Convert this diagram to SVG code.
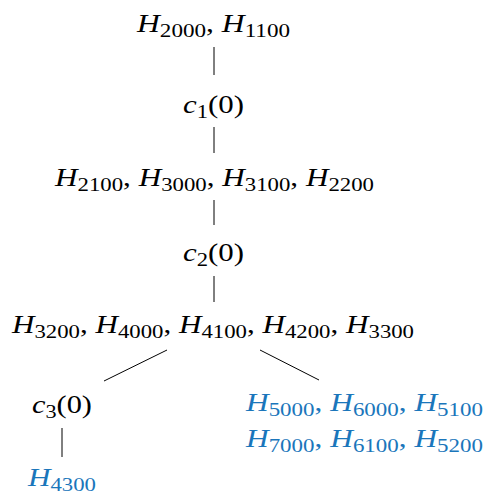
<svg xmlns="http://www.w3.org/2000/svg" width="486" height="497" viewBox="0 0 486 497">
<style>
text{font-family:"Liberation Serif","DejaVu Serif",serif;font-size:26px;fill:#000}
.v{font-style:italic}
.s{font-size:19px;font-style:normal}
.b{fill:#1a76bb}
.b tspan{fill:#1a76bb}
.e{stroke:#000;stroke-width:1;fill:none}
</style>
<rect width="486" height="497" fill="#fff"/>
<g id="edges">
<line class="e" x1="214" y1="47" x2="214" y2="75"/>
<line class="e" x1="214" y1="127" x2="214" y2="153"/>
<line class="e" x1="214" y1="200" x2="214" y2="225"/>
<line class="e" x1="214" y1="276" x2="214" y2="302"/>
<line class="e" x1="167" y1="350" x2="104" y2="381"/>
<line class="e" x1="260" y1="350" x2="319" y2="380"/>
<line class="e" x1="62" y1="428" x2="62" y2="457"/>
</g>
<g id="n1"><text x="137" y="32" textLength="153" lengthAdjust="spacingAndGlyphs"><tspan class="v">H</tspan><tspan class="s" dy="5">2000</tspan><tspan dy="-5">, </tspan><tspan class="v">H</tspan><tspan class="s" dy="5">1100</tspan></text></g>
<g id="n2"><text x="183" y="113" textLength="61" lengthAdjust="spacingAndGlyphs"><tspan class="v">c</tspan><tspan class="s" dy="5">1</tspan><tspan dy="-5">(0)</tspan></text></g>
<g id="n3"><text x="55" y="186" textLength="319" lengthAdjust="spacingAndGlyphs"><tspan class="v">H</tspan><tspan class="s" dy="5">2100</tspan><tspan dy="-5">, </tspan><tspan class="v">H</tspan><tspan class="s" dy="5">3000</tspan><tspan dy="-5">, </tspan><tspan class="v">H</tspan><tspan class="s" dy="5">3100</tspan><tspan dy="-5">, </tspan><tspan class="v">H</tspan><tspan class="s" dy="5">2200</tspan></text></g>
<g id="n4"><text x="183" y="261" textLength="61" lengthAdjust="spacingAndGlyphs"><tspan class="v">c</tspan><tspan class="s" dy="5">2</tspan><tspan dy="-5">(0)</tspan></text></g>
<g id="n5"><text x="12" y="333" textLength="402" lengthAdjust="spacingAndGlyphs"><tspan class="v">H</tspan><tspan class="s" dy="5">3200</tspan><tspan dy="-5">, </tspan><tspan class="v">H</tspan><tspan class="s" dy="5">4000</tspan><tspan dy="-5">, </tspan><tspan class="v">H</tspan><tspan class="s" dy="5">4100</tspan><tspan dy="-5">, </tspan><tspan class="v">H</tspan><tspan class="s" dy="5">4200</tspan><tspan dy="-5">, </tspan><tspan class="v">H</tspan><tspan class="s" dy="5">3300</tspan></text></g>
<g id="n6"><text x="32" y="413" textLength="60" lengthAdjust="spacingAndGlyphs"><tspan class="v">c</tspan><tspan class="s" dy="5">3</tspan><tspan dy="-5">(0)</tspan></text></g>
<g id="n7"><text class="b" x="28" y="486" textLength="68" lengthAdjust="spacingAndGlyphs"><tspan class="v">H</tspan><tspan class="s" dy="5">4300</tspan></text></g>
<g id="n8">
<text class="b" x="246" y="411" textLength="237" lengthAdjust="spacingAndGlyphs"><tspan class="v">H</tspan><tspan class="s" dy="5">5000</tspan><tspan dy="-5">, </tspan><tspan class="v">H</tspan><tspan class="s" dy="5">6000</tspan><tspan dy="-5">, </tspan><tspan class="v">H</tspan><tspan class="s" dy="5">5100</tspan></text>
<text class="b" x="246" y="447" textLength="237" lengthAdjust="spacingAndGlyphs"><tspan class="v">H</tspan><tspan class="s" dy="5">7000</tspan><tspan dy="-5">, </tspan><tspan class="v">H</tspan><tspan class="s" dy="5">6100</tspan><tspan dy="-5">, </tspan><tspan class="v">H</tspan><tspan class="s" dy="5">5200</tspan></text>
</g>
</svg>
